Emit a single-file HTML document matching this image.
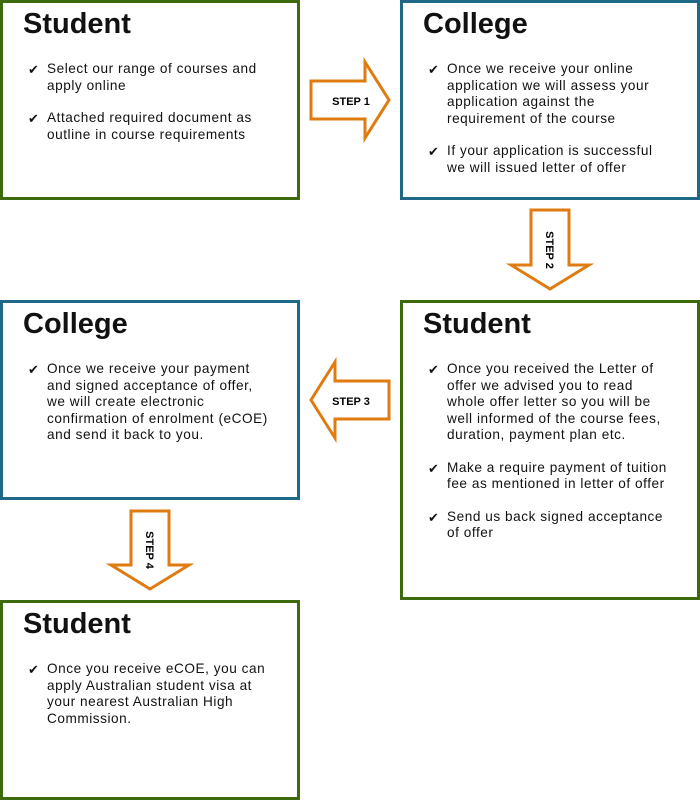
<!DOCTYPE html>
<html><head><style>
body{margin:0;width:700px;height:800px;position:relative;background:#fff;font-family:"Liberation Sans",sans-serif;color:#111}
.box{position:absolute;box-sizing:border-box;border:3px solid #3d6b0c;width:300px}
.blue{border-color:#1e6888}
.box h1{margin:0;position:absolute;left:20px;top:5px;font-size:29px;font-weight:bold;letter-spacing:0px}
.box ul{list-style:none;margin:0;padding:0;position:absolute;left:44px;top:58px;width:250px}
.box li{font-size:13.6px;line-height:16.5px;margin-bottom:16px;position:relative;letter-spacing:0.55px;white-space:nowrap}
.box li:before{content:"✔";position:absolute;left:-19px;top:1px;font-size:13px}
svg{position:absolute;left:0;top:0}
</style></head><body>
<div class="box" style="left:0;top:0;height:200px"><h1>Student</h1><ul><li>Select our range of courses and<br>apply online</li><li>Attached required document as<br>outline in course requirements</li></ul></div>
<div class="box blue" style="left:400px;top:0;height:200px"><h1>College</h1><ul><li>Once we receive your online<br>application we will assess your<br>application against the<br>requirement of the course</li><li>If your application is successful<br>we will issued letter of offer</li></ul></div>
<div class="box blue" style="left:0;top:300px;height:200px"><h1>College</h1><ul><li>Once we receive your payment<br>and signed acceptance of offer,<br>we will create electronic<br>confirmation of enrolment (eCOE)<br>and send it back to you.</li></ul></div>
<div class="box" style="left:400px;top:300px;height:300px"><h1>Student</h1><ul><li>Once you received the Letter of<br>offer we advised you to read<br>whole offer letter so you will be<br>well informed of the course fees,<br>duration, payment plan etc.</li><li>Make a require payment of tuition<br>fee as mentioned in letter of offer</li><li>Send us back signed acceptance<br>of offer</li></ul></div>
<div class="box" style="left:0;top:600px;height:200px"><h1>Student</h1><ul><li>Once you receive eCOE, you can<br>apply Australian student visa at<br>your nearest Australian High<br>Commission.</li></ul></div>
<svg width="700" height="800" font-family="Liberation Sans,sans-serif" font-weight="bold" font-size="11">
<g fill="#fff" stroke="#e07b12" stroke-width="3" stroke-linejoin="miter">
<polygon points="311,81 365,81 365,62 389,100 365,138 365,119 311,119"/>
<polygon points="531,210 569,210 569,265 589,265 550,289 511,265 531,265"/>
<polygon points="389,381 335,381 335,362 311,400 335,438 335,419 389,419"/>
<polygon points="131,511 169,511 169,565 189,565 150,589 111,565 131,565"/>
</g>
<text x="351" y="105" text-anchor="middle">STEP 1</text>
<text x="351" y="405" text-anchor="middle">STEP 3</text>
<text transform="translate(546,250) rotate(90)" text-anchor="middle">STEP 2</text>
<text transform="translate(146,550) rotate(90)" text-anchor="middle">STEP 4</text>
</svg>
</body></html>
